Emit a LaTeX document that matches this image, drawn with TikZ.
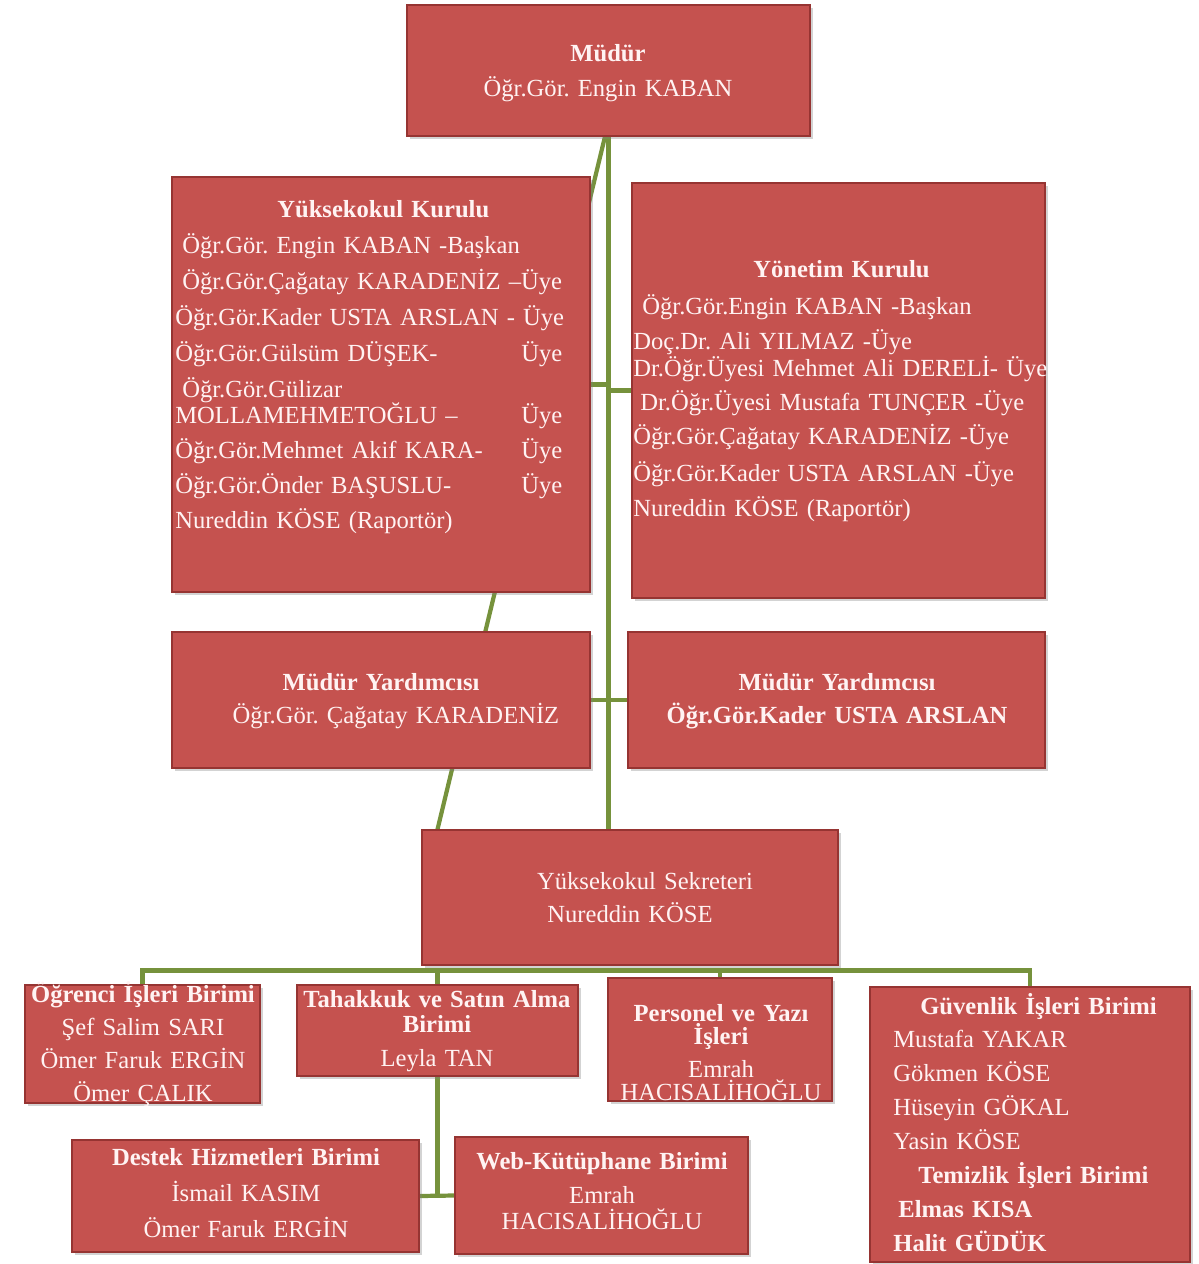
\documentclass[tikz,border=0pt]{standalone}
\usepackage{fontspec}
\setmainfont{Liberation Serif}
\usetikzlibrary{fit,shadows}
\definecolor{kutukirmizi}{RGB}{197,82,79}
\definecolor{kutukenar}{RGB}{150,52,50}
\definecolor{yaziacik}{RGB}{255,243,243}
\definecolor{hatyesil}{RGB}{118,146,60}
\pgfdeclarelayer{arka}
\pgfsetlayers{arka,main}
\newcommand{\uyesatir}[1]{\leavevmode\hbox to 7.74cm{#1\hfill Üye}}

\begin{document}
\begin{tikzpicture}[x=0.02cm, y=-0.02cm,
  kutu/.style={draw=kutukenar, line width=0.6pt, fill=kutukirmizi, inner sep=0pt,
    drop shadow={shadow xshift=1.5pt, shadow yshift=-1.5pt, opacity=0.35}},
  yazi/.style={text=yaziacik, inner sep=0pt, align=center, anchor=base,
    font={\fontsize{14}{14.5}\selectfont\frenchspacing\lineskiplimit-20pt\relax}},
  solyazi/.style={yazi, align=left, anchor=base west},
  hat/.style={draw=hatyesil, line width=2.4pt}]
  \useasboundingbox (0,0) rectangle (1198,1264);

  % kutular
  \node[kutu, fit={(407,5) (810,136)}] (mudur) {};
  \node[kutu, fit={(172,177) (590,592)}] (yokurul) {};
  \node[kutu, fit={(632,183) (1045,598)}] (yonetim) {};
  \node[kutu, fit={(172,632) (590,768)}] (myrd1) {};
  \node[kutu, fit={(628,632) (1045,768)}] (myrd2) {};
  \node[kutu, fit={(422,830) (838,965)}] (sekreter) {};
  \node[kutu, fit={(25,985) (260,1103)}] (ogrenci) {};
  \node[kutu, fit={(297,985) (578,1076)}] (tahakkuk) {};
  \node[kutu, fit={(608,978) (832,1101)}] (personel) {};
  \node[kutu, fit={(870,987) (1190,1262)}] (guvenlik) {};
  \node[kutu, fit={(72,1140) (419,1252)}] (destek) {};
  \node[kutu, fit={(455,1137) (748,1254)}] (web) {};
  \coordinate (bus) at ([yshift=-0.1cm]sekreter.south);

  % baglantilar
  \begin{pgfonlayer}{arka}
    \draw[hat] (mudur.south) -- (mudur.south |- sekreter.north);
    \draw[hat] ([xshift=-0.07cm]mudur.south) -- ([xshift=0.32cm]sekreter.north west);
    \draw[hat] (yokurul.east) -- (yokurul.east -| mudur.south);
    \draw[hat] (yonetim.west) -- (yonetim.west -| mudur.south);
    \draw[hat] (myrd1.east) -- (myrd2.west);
    \draw[hat] (ogrenci.north) |- (bus) -| (guvenlik.north);
    \draw[hat] (tahakkuk.north) -- (tahakkuk.north |- bus);
    \draw[hat] (personel.north) -- (personel.north |- bus);
    \draw[hat] (tahakkuk.south) -- (tahakkuk.south |- destek.east);
    \draw[hat] (destek.east) -- (web.west);
  \end{pgfonlayer}

  % yazilar
  \node[yazi, text width=8cm] (mudur-y) at (608,62)
    {\textbf{Müdür}\\[5.4pt]Öğr.Gör. Engin KABAN};
  \node[solyazi, text width=8.2cm] (yokurul-y) at (175,217)
    {\hspace*{2.04cm}\textbf{Yüksekokul Kurulu}\\[6pt]
     \hspace*{0.14cm}Öğr.Gör. Engin KABAN -Başkan\\[6pt]
     \hspace*{0.14cm}Öğr.Gör.Çağatay KARADENİZ –Üye\\[6pt]
     Öğr.Gör.Kader USTA ARSLAN - Üye\\[6pt]
     \uyesatir{Öğr.Gör.Gülsüm DÜŞEK-}\\[6.5pt]
     \hspace*{0.14cm}Öğr.Gör.Gülizar\\
     \uyesatir{MOLLAMEHMETOĞLU –}\\[5.5pt]
     \uyesatir{Öğr.Gör.Mehmet Akif KARA-}\\[5.5pt]
     \uyesatir{Öğr.Gör.Önder BAŞUSLU-}\\[5.5pt]
     Nureddin KÖSE (Raportör)};
  \node[solyazi, text width=8.4cm] (yonetim-y) at (633,277)
    {\hspace*{2.4cm}\textbf{Yönetim Kurulu}\\[7pt]
     \hspace*{0.18cm}Öğr.Gör.Engin KABAN -Başkan\\[5.4pt]
     Doç.Dr. Ali YILMAZ -Üye\\[1pt]
     Dr.Öğr.Üyesi Mehmet Ali DERELİ- Üye\\[4.3pt]
     \hspace*{0.14cm}Dr.Öğr.Üyesi Mustafa TUNÇER -Üye\\[5.4pt]
     Öğr.Gör.Çağatay KARADENİZ -Üye\\[6.5pt]
     Öğr.Gör.Kader USTA ARSLAN -Üye\\[5.4pt]
     Nureddin KÖSE (Raportör)};
  \node[yazi, text width=8cm] (myrd1-y) at (381,690)
    {\textbf{Müdür Yardımcısı}\\[4.8pt]\hspace*{0.6cm}Öğr.Gör. Çağatay KARADENİZ};
  \node[yazi, text width=8cm] (myrd2-y) at (837,690)
    {\textbf{Müdür Yardımcısı}\\[4.8pt]\textbf{Öğr.Gör.Kader USTA ARSLAN}};
  \node[yazi, text width=8cm] (sekreter-y) at (630,889)
    {\hspace*{0.6cm}Yüksekokul Sekreteri\\[4.8pt]Nureddin KÖSE};
  \node[yazi, text width=4.8cm] (ogrenci-y) at (143,1002)
    {\textbf{Öğrenci İşleri Birimi}\\[4.3pt]Şef Salim SARI\\[4.3pt]
     Ömer Faruk ERGİN\\[4.3pt]Ömer ÇALIK};
  \node[yazi, text width=5.6cm] (tahakkuk-y) at (437,1007)
    {\textbf{Tahakkuk ve Satın Alma}\\\textbf{Birimi}\\[5pt]Leyla TAN};
  \node[yazi, text width=4.6cm] (personel-y) at (721,1021)
    {\textbf{Personel ve Yazı}\\[-0.9pt]\textbf{İşleri}\\[4.3pt]
     Emrah\\[-1.4pt]HACISALİHOĞLU};
  \node[solyazi, text width=6cm] (guvenlik-y) at (893,1014)
    {\hspace*{0.54cm}\textbf{Güvenlik İşleri Birimi}\\[4.8pt]
     Mustafa YAKAR\\[4.8pt]
     Gökmen KÖSE\\[4.8pt]
     Hüseyin GÖKAL\\[4.8pt]
     Yasin KÖSE\\[4.8pt]
     \hspace*{0.5cm}\textbf{Temizlik İşleri Birimi}\\[4.8pt]
     \hspace*{0.1cm}\textbf{Elmas KISA}\\[4.8pt]
     \textbf{Halit GÜDÜK}};
  \node[yazi, text width=6.6cm] (destek-y) at (246,1165)
    {\textbf{Destek Hizmetleri Birimi}\\[6pt]İsmail KASIM\\[6pt]Ömer Faruk ERGİN};
  \node[yazi, text width=5.6cm] (web-y) at (602,1169)
    {\textbf{Web-Kütüphane Birimi}\\[5.4pt]Emrah\\[0pt]HACISALİHOĞLU};
\end{tikzpicture}
\end{document}
